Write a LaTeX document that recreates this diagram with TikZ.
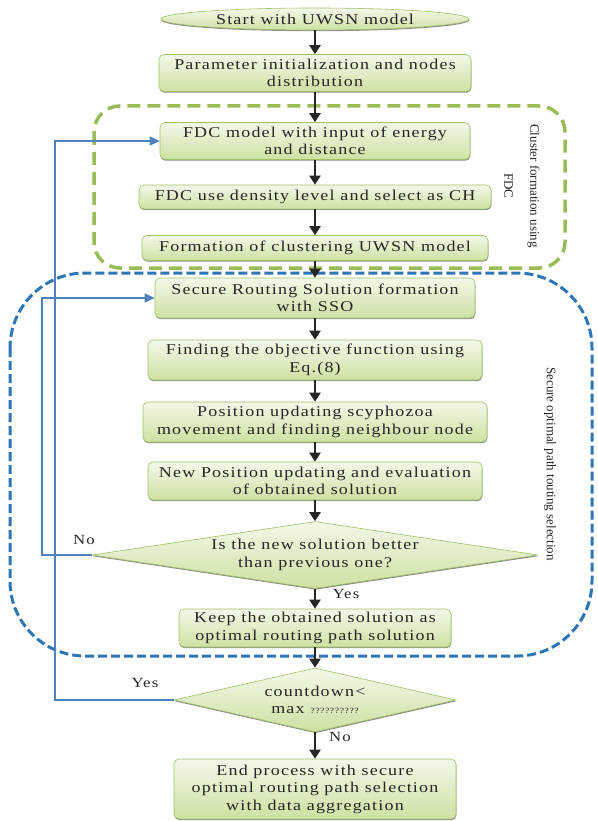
\documentclass[tikz,border=0pt]{standalone}
\usepackage{fontspec}
\setmainfont{Liberation Serif}[FakeStretch=1.2,LetterSpace=8]
\newfontfamily\sidefont{Liberation Serif}
\usetikzlibrary{arrows.meta,shapes.geometric,shadows}
\definecolor{boxtop}{RGB}{243,248,233}
\definecolor{boxbot}{RGB}{205,225,162}
\definecolor{boxline}{RGB}{160,192,100}
\definecolor{clustergreen}{RGB}{155,187,89}
\definecolor{routeblue}{RGB}{46,117,182}
\definecolor{loopblue}{RGB}{79,129,189}
\tikzset{
  boxfill/.style={draw=boxline, line width=0.6pt, top color=boxtop, bottom color=boxbot,
    drop shadow={shadow xshift=0.4pt, shadow yshift=-1.2pt, fill=black, opacity=0.45}},
  stepbox/.style={boxfill, rounded corners=5pt, align=center, inner sep=0pt,
    font=\fontsize{15}{17.5}\selectfont, text=black!85},
  startbox/.style={boxfill, shape=ellipse, inner sep=0pt, font=\fontsize{15}{17.5}\selectfont, text=black!85},
  decision/.style={boxfill, shape=diamond, inner sep=0pt},
  inside/.style={align=center, font=\fontsize{15}{17.5}\selectfont, text=black!85},
  tag/.style={font=\fontsize{14}{16}\selectfont, text=black!85},
  sidetext/.style={rotate=-90, align=center, font=\sidefont\fontsize{13}{26}\selectfont, text=black!85},
  flow/.style={-{Triangle[width=11pt,length=9pt]}, line width=2.4pt, black!85},
  loopline/.style={-{Triangle[width=9pt,length=10pt]}, line width=1.6pt, loopblue},
}

\begin{document}
\begin{tikzpicture}[x=1pt,y=-1pt]
			%%%%% START %%%%%
			\useasboundingbox (0,0) rectangle (597,821);
			
			\draw[routeblue, line width=3pt, dash pattern=on 9pt off 4pt, rounded corners=75pt] (10,273) rectangle (592,656);
			\draw[clustergreen, line width=3.5pt, dash pattern=on 13pt off 7pt, rounded corners=26pt] (94,106) rectangle (565,268);
			
			\node[startbox, minimum width=308pt, minimum height=22pt] (start) at (315,19) {Start with UWSN model};
			\node[stepbox, minimum width=312pt, minimum height=37pt] (param) at (315,73) {Parameter initialization and nodes\\distribution};
			
			\node[stepbox, minimum width=310pt, minimum height=37pt] (fdcinput) at (315,141) {FDC model with input of energy\\and distance};
			\node[stepbox, minimum width=352pt, minimum height=24pt] (fdcdensity) at (315,197) {FDC use density level and select as CH};
			\node[stepbox, minimum width=346pt, minimum height=25pt] (fdccluster) at (315,248) {Formation of clustering UWSN model};
			
			\node[stepbox, minimum width=320pt, minimum height=40pt] (secure) at (315,298) {Secure Routing Solution formation\\with SSO};
			\node[stepbox, minimum width=334pt, minimum height=40pt] (objective) at (315,360) {Finding the objective function using\\Eq.(8)};
			\node[stepbox, minimum width=344pt, minimum height=40pt] (position) at (315,422) {Position updating scyphozoa\\movement and finding neighbour node};
			\node[stepbox, minimum width=334pt, minimum height=38pt] (newposition) at (315,481) {New Position updating and evaluation\\of obtained solution};
			\node[decision, minimum width=446pt, minimum height=67pt,
			  label={[inside]center:Is the new solution better\\than previous one?}] (better) at (315,555) {};
			\node[stepbox, minimum width=272pt, minimum height=38pt] (keep) at (315,628) {Keep the obtained solution as\\optimal routing path solution};
			
			\node[decision, minimum width=282pt, minimum height=64pt,
			  label={[inside]center:countdown<\\max {\fontsize{8}{8}\selectfont ??????????}}] (countdown) at (315,700) {};
			\node[stepbox, minimum width=282pt, minimum height=60pt] (finish) at (315,789) {End process with secure\\optimal routing path selection\\with data aggregation};
			
			\node[sidetext] (clusterlabel) at (522,186) {Cluster formation using\\FDC};
			\node[sidetext] (routelabel) at (550,464) {Secure optimal path touting selection};
			
			\draw[flow] (start) -- (param);
			\draw[flow] (param) -- (fdcinput);
			\draw[flow] (fdcinput) -- (fdcdensity);
			\draw[flow] (fdcdensity) -- (fdccluster);
			\draw[flow] (fdccluster) -- (secure);
			\draw[flow] (secure) -- (objective);
			\draw[flow] (objective) -- (position);
			\draw[flow] (position) -- (newposition);
			\draw[flow] (newposition) -- (better);
			\draw[flow] (better) -- (keep);
			\draw[flow] (keep) -- (countdown);
			\draw[flow] (countdown) -- (finish);
			
			\draw[loopline] (better.west) -- ++(-50,0) |- (secure.west);
			\draw[loopline] (countdown.west) -- ++(-119,0) |- (fdcinput.west);
			
			\node[tag] (betterno) at (84,540) {No};
			\node[tag] (betteryes) at (346,594) {Yes};
			\node[tag] (countyes) at (145,683) {Yes};
			\node[tag] (countno) at (340,737) {No};
			
			%%%%% END %%%%%
\end{tikzpicture}
\end{document}
